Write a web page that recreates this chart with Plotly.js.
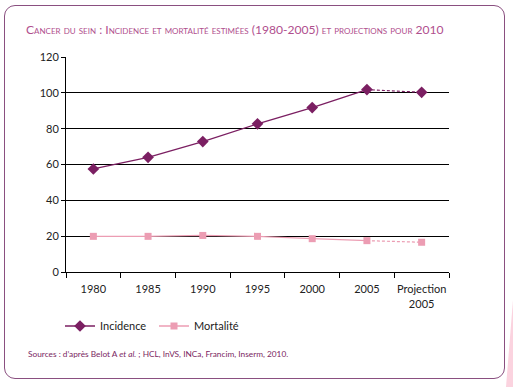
<!DOCTYPE html>
<html><head><meta charset="utf-8">
<script src="https://cdn.plot.ly/plotly-3.0.1.min.js"></script>
<style>
html,body{margin:0;padding:0;background:#fff;}
#frame{position:absolute;left:4px;top:5px;width:499px;height:372px;border:1.5px solid #8a4f80;border-radius:11px;}
#deco{position:absolute;left:506px;top:300px;width:0;height:0;border-left:7px solid transparent;border-bottom:87px solid #fbd3df;}
#chart{position:absolute;left:0;top:0;width:513px;height:387px;}
</style></head>
<body>
<div id="frame"></div>
<div id="deco"></div>
<div id="chart"></div>
<script>
var categories = ['1980','1985','1990','1995','2000','2005','Projection<br>2005'];
var incidence = [57.5, 64.0, 72.8, 82.7, 91.8, 101.8, 100.3];
var mortalite = [19.9, 19.9, 20.4, 19.9, 18.6, 17.5, 16.6];
var yTicks = [0, 20, 40, 60, 80, 100, 120];

var incColor = '#7b1f62';
var morColor = '#ec9db3';

var nObs = 6; // observed points (1980-2005), last point is projection
var traces = [
  {x: categories.slice(0, nObs), y: incidence.slice(0, nObs), name: 'Incidence', type: 'scatter', mode: 'lines+markers',
   line: {color: incColor, width: 1.3}, marker: {symbol: 'diamond', size: 9, color: incColor}},
  {x: categories.slice(nObs - 1), y: incidence.slice(nObs - 1), showlegend: false, type: 'scatter', mode: 'lines',
   line: {color: incColor, width: 1.2, dash: '3px,2px'}},
  {x: categories.slice(nObs), y: incidence.slice(nObs), showlegend: false, type: 'scatter', mode: 'markers',
   marker: {symbol: 'diamond', size: 9, color: incColor}},
  {x: categories.slice(0, nObs), y: mortalite.slice(0, nObs), name: 'Mortalité', type: 'scatter', mode: 'lines+markers',
   line: {color: morColor, width: 1.3}, marker: {symbol: 'square', size: 7, color: morColor}},
  {x: categories.slice(nObs - 1), y: mortalite.slice(nObs - 1), showlegend: false, type: 'scatter', mode: 'lines',
   line: {color: morColor, width: 1.2, dash: '3px,2px'}},
  {x: categories.slice(nObs), y: mortalite.slice(nObs), showlegend: false, type: 'scatter', mode: 'markers',
   marker: {symbol: 'square', size: 7, color: morColor}}
];

var layout = {
  width: 513, height: 387,
  margin: {l: 66, r: 64, t: 57, b: 115},
  paper_bgcolor: 'rgba(0,0,0,0)', plot_bgcolor: 'rgba(0,0,0,0)',
  font: {family: 'Lato, "Open Sans", sans-serif', size: 11, color: '#222'},
  title: {text: 'Cancer du sein : Incidence et mortalité estimées (1980-2005) et projections pour 2010',
          x: 26/513, xanchor: 'left', y: 1 - 30/387, yanchor: 'middle',
          font: {family: 'Lato, "Open Sans", sans-serif', size: 12.1, color: '#b04f8e', variant: 'small-caps'}},
  xaxis: {type: 'category', range: [-0.5, 6.5], tickson: 'boundaries', ticks: 'outside', ticklen: 5,
          tickangle: 0, ticklabelstandoff: 7, tickcolor: '#000', showline: true, linecolor: '#000', linewidth: 1,
          showgrid: false, tickfont: {size: 11, color: '#222'}, fixedrange: true},
  yaxis: {range: [0, 120], tickvals: yTicks, ticktext: yTicks.map(String), ticks: 'outside', ticklen: 4,
          tickcolor: '#000', showline: true, linecolor: '#000', linewidth: 1, showgrid: true, gridcolor: '#000',
          gridwidth: 1, zeroline: false, tickfont: {size: 11, color: '#222'}},
  legend: {orientation: 'h', x: (60-66)/383, xanchor: 'left', y: -(326-272)/215, yanchor: 'middle',
           font: {size: 11, color: '#222'}, itemwidth: 30, entrywidth: 49, entrywidthmode: 'pixels',
           traceorder: 'normal'},
  annotations: [{xref: 'paper', yref: 'paper', x: (26-66)/383, y: -(354-272)/215, xanchor: 'left', yanchor: 'middle',
                 showarrow: false, text: 'Sources : d\u2019après Belot A <i>et al.</i> ; HCL, InVS, INCa, Francim, Inserm, 2010.',
                 font: {size: 8.3, color: '#7b1f62'}}]
};
Plotly.newPlot('chart', traces, layout, {displayModeBar: false, staticPlot: true});
</script>
</body></html>
